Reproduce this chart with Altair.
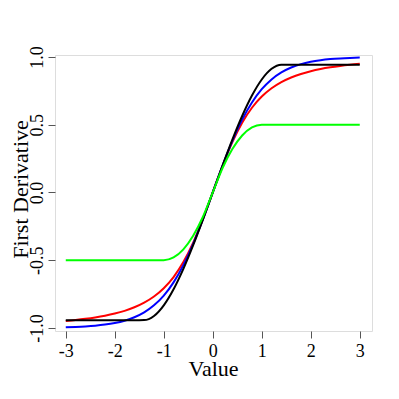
import altair as alt
import pandas as pd

x_vals = [-3.0, -2.8, -2.6, -2.4, -2.2, -2.0, -1.8, -1.6, -1.4, -1.2, -1.0, -0.8, -0.6, -0.4, -0.2,
          0.0, 0.2, 0.4, 0.6, 0.8, 1.0, 1.2, 1.4, 1.6, 1.8, 2.0, 2.2, 2.4, 2.6, 2.8, 3.0]

blue_vals = [-0.9951, -0.9926, -0.9890, -0.9837, -0.9757, -0.9640, -0.9468, -0.9217, -0.8854, -0.8337,
             -0.7616, -0.6640, -0.5370, -0.3799, -0.1974, 0.0, 0.1974, 0.3799, 0.5370, 0.6640, 0.7616,
             0.8337, 0.8854, 0.9217, 0.9468, 0.9640, 0.9757, 0.9837, 0.9890, 0.9926, 0.9951]

red_vals = [-0.9487, -0.9417, -0.9333, -0.9231, -0.9104, -0.8944, -0.8742, -0.8480, -0.8137, -0.7682,
            -0.7071, -0.6247, -0.5145, -0.3714, -0.1961, 0.0, 0.1961, 0.3714, 0.5145, 0.6247, 0.7071,
            0.7682, 0.8137, 0.8480, 0.8742, 0.8944, 0.9104, 0.9231, 0.9333, 0.9417, 0.9487]

black_vals = [-0.9428, -0.9428, -0.9428, -0.9428, -0.9428, -0.9428, -0.9428, -0.9428, -0.9427, -0.9120,
              -0.8333, -0.7147, -0.5640, -0.3893, -0.1987, 0.0, 0.1987, 0.3893, 0.5640, 0.7147, 0.8333,
              0.9120, 0.9427, 0.9428, 0.9428, 0.9428, 0.9428, 0.9428, 0.9428, 0.9428, 0.9428]

green_vals = [-0.5, -0.5, -0.5, -0.5, -0.5, -0.5, -0.5, -0.5, -0.5, -0.5,
              -0.5, -0.48, -0.42, -0.32, -0.18, 0.0, 0.18, 0.32, 0.42, 0.48, 0.5,
              0.5, 0.5, 0.5, 0.5, 0.5, 0.5, 0.5, 0.5, 0.5, 0.5]

series = [("red", red_vals, "#ff0000"), ("blue", blue_vals, "#0000ff"),
          ("black", black_vals, "#000000"), ("green", green_vals, "#00ff00")]

x_ticks = [-3, -2, -1, 0, 1, 2, 3]
y_ticks = [-1.0, -0.5, 0.0, 0.5, 1.0]

FONT = "Liberation Serif"

x_axis = alt.Axis(
    values=x_ticks, grid=False, domain=False, tickSize=7, tickColor="#555555", tickWidth=1,
    labelFont=FONT, labelFontSize=18, labelColor="#000000", labelPadding=4,
    labelExpr="datum.value < 0 ? '-' + format(-datum.value, 'd') : format(datum.value, 'd')",
    title="Value", titleFont=FONT, titleFontSize=22, titleFontWeight="normal", titleColor="#000000",
    titleX=158, titleY=44, titleBaseline="alphabetic", titleAlign="center",
)
y_axis = alt.Axis(
    values=y_ticks, grid=False, domain=False, tickSize=7, tickColor="#555555", tickWidth=1,
    labelFont=FONT, labelFontSize=18, labelColor="#000000", labelPadding=6,
    labelAngle=-90, labelAlign="center", labelBaseline="alphabetic",
    labelExpr="datum.value < 0 ? '-' + format(-datum.value, '.1f') : format(datum.value, '.1f')",
    title="First Derivative", titleFont=FONT, titleFontSize=22, titleFontWeight="normal",
    titleColor="#000000", titleAngle=-90, titleX=-28, titleY=134, titleBaseline="alphabetic",
    titleAlign="center",
)

layers = []
for name, vals, col in series:
    df = pd.DataFrame({"x": x_vals, "y": vals})
    layers.append(
        alt.Chart(df).mark_line(color=col, strokeWidth=2, interpolate="monotone").encode(
            x=alt.X("x:Q", scale=alt.Scale(domain=[-3.22, 3.25], nice=False, zero=False), axis=x_axis),
            y=alt.Y("y:Q", scale=alt.Scale(domain=[-1.023, 1.014], nice=False, zero=False), axis=y_axis),
        )
    )

chart = alt.layer(*layers).properties(
    width=317, height=276,
    autosize=alt.AutoSizeParams(type="none"),
    padding={"left": 47, "top": 47, "right": 19, "bottom": 60},
).configure_view(stroke="#555555", strokeWidth=1).configure(background="white")

chart.save("out.html", embed_options={"renderer": "svg", "actions": False})
